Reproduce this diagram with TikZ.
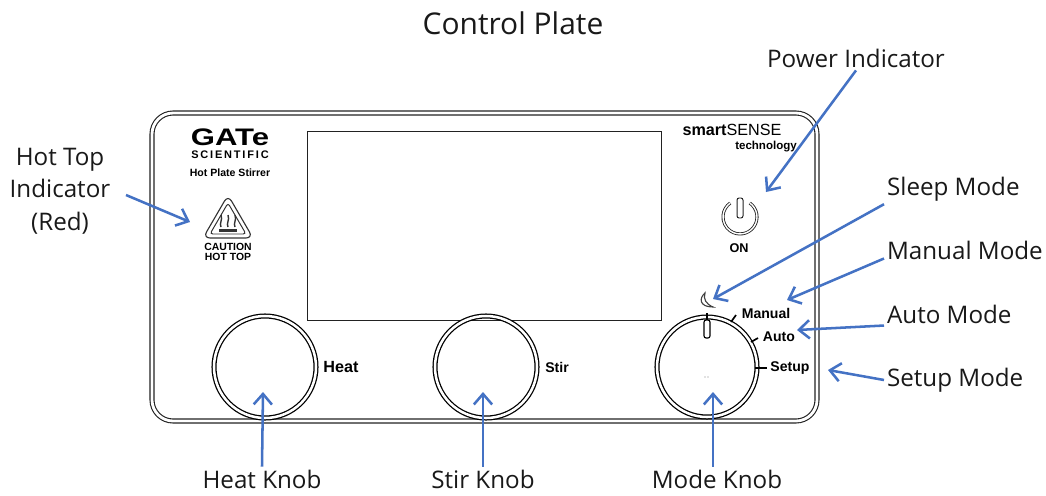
\documentclass[tikz,border=0pt]{standalone}
\usepackage{fontspec}
\setmainfont{Open Sans}
\newfontfamily\platefont{Liberation Sans}
\usetikzlibrary{arrows.meta}
\definecolor{pointerblue}{HTML}{4472C4}
\definecolor{platedark}{HTML}{222222}
\tikzset{
  pointer/.style={pointerblue, line width=1.8pt, -{Straight Barb[length=7.5pt,width=13pt,line width=1.8pt]}},
  callout/.style={inner sep=2pt, font=\fontsize{17.2}{23}\selectfont, align=center, text=black!90},
  platetext/.style={inner sep=0pt, font=\platefont\bfseries\fontsize{10}{10}\selectfont},
  plateline/.style={platedark, line width=0.8pt},
  knobring/.style={black, line width=0.9pt, double=white, double distance=1.8pt},
}
\begin{document}
\begin{tikzpicture}[x=0.025cm,y=-0.025cm]
\useasboundingbox (0,0) rectangle (1046,495);
\node[inner sep=0pt, font=\fontsize{21.3}{25}\selectfont, text=black!90] (title) at (513,23) {Control Plate};

% plate and display
\draw[plateline, double=white, double distance=2pt, rounded corners=15pt] (152,113) rectangle (817,421);
\draw[plateline, line width=0.6pt, fill=white] (307,131) rectangle (661,320);

% knobs
\draw[knobring] (265,367) circle (51);
\draw[knobring] (486,367) circle (51);
\draw[knobring] (707,367) circle (50);
\node[platetext, font=\platefont\bfseries\fontsize{11.5}{12}\selectfont] (heattext) at (341,367) {Heat};
\node[platetext] (stirtext) at (557,367) {Stir};

% mode dial
\draw[black, line width=1.2pt] (755,368) -- (767,368);
\draw[black, line width=1.2pt] (751,342) -- (758,338);
\draw[black, line width=1.2pt] (731,322) -- (736,315);
\draw[black, line width=1.4pt] (707,313) -- (707,320);
\draw[black, fill=white, line width=0.8pt, rounded corners=1.5pt] (704,320) rectangle (710,338);
\node[platetext] (setuptext) at (790,368) {Setup};
\node[platetext] (autotext) at (779,337) {Auto};
\node[platetext] (manualtext) at (766,313) {Manual};
\draw[black!75, fill=white, line width=0.8pt] (705,293) .. controls (699,298) and (699,307) .. (713,307) .. controls (706,304) and (703,299) .. (705,293) -- cycle;
\fill[gray] (705,377) circle (0.7) (708,377) circle (0.7);

% logo
\node[inner sep=0pt, xscale=1.3, font=\platefont\bfseries\fontsize{17}{16}\selectfont] (logo) at (230,137) {GATe};
\node[platetext, font=\platefont\bfseries\fontsize{7.8}{8}\selectfont] (scientific) at (230,155) {S\,C\,I\,E\,N\,T\,I\,F\,I\,C};
\node[platetext, font=\platefont\bfseries\fontsize{7.5}{8}\selectfont] (platename) at (230,173) {Hot Plate Stirrer};

% hot top triangle
\draw[black!80, line width=0.8pt, rounded corners=5pt] (228,195) -- (253,238) -- (203,238) -- cycle;
\draw[black!80, line width=0.7pt, rounded corners=2pt] (228,203) -- (246,234) -- (210,234) -- cycle;
\foreach \hx in {221,228,235} {
  \draw[black!80, line width=1pt] (\hx,227) .. controls (\hx-2,223) and (\hx+2,220) .. (\hx,215);
}
\fill[black!80] (219,229) rectangle (237,232);
\node[platetext, font=\platefont\bfseries\fontsize{7.4}{7.2}\selectfont, align=center] (caution) at (228,252) {CAUTION\\HOT TOP};

% smartSENSE
\node[platetext, font=\platefont\fontsize{11.5}{11}\selectfont] (brand) at (732,130) {\textbf{smart}SENSE};
\node[platetext, font=\platefont\bfseries\fontsize{8.2}{8}\selectfont] (brandsub) at (766,147) {technology};

% power symbol
\draw[platedark, line width=0.6pt, double=white, double distance=1pt] (749.75,203) arc[start angle=-55, end angle=235, radius=17];
\draw[platedark, fill=white, line width=0.7pt, rounded corners=1.5pt] (737,198) rectangle (743,218);
\node[platetext, font=\platefont\bfseries\fontsize{9}{9}\selectfont] (ontext) at (739,248) {ON};

% callouts
\node[callout] (powerlabel) at (856,58) {Power Indicator};
\node[callout, anchor=west] (sleeplabel) at (884,189) {Sleep Mode};
\node[callout, anchor=west] (manuallabel) at (884,250) {Manual Mode};
\node[callout, anchor=west] (autolabel) at (884,314) {Auto Mode};
\node[callout, anchor=west] (setuplabel) at (884,380) {Setup Mode};
\node[callout] (hotlabel) at (60,191) {Hot Top\\Indicator\\(Red)};
\node[callout] (heatlabel) at (262,479) {Heat Knob};
\node[callout] (stirlabel) at (483,479) {Stir Knob};
\node[callout] (modelabel) at (717,479) {Mode Knob};

\coordinate (hotstart) at (126,195);
\coordinate (powertip) at (766,192);
\coordinate (sleeptip) at (713,299);
\coordinate (manualtip) at (787,300);
\coordinate (autotip) at (797,330);
\coordinate (setuptip) at (828,370);
\coordinate (hottip) at (190,222);
\coordinate (heattip) at (263,392);
\coordinate (stirtip) at (483,392);
\coordinate (modetip) at (713,392);

\draw[pointer] (powerlabel.south) -- (powertip);
\draw[pointer] (sleeplabel.south west) -- (sleeptip);
\draw[pointer] (manuallabel.186) -- (manualtip);
\draw[pointer] (autolabel.190) -- (autotip);
\draw[pointer] (setuplabel.west) -- (setuptip);
\draw[pointer] (hotstart) -- (hottip);
\draw[pointer] (heatlabel.north) -- (heattip);
\draw[pointer] (stirlabel.north) -- (stirtip);
\draw[pointer] (modelabel.north -| modetip) -- (modetip);
\end{tikzpicture}
\end{document}
